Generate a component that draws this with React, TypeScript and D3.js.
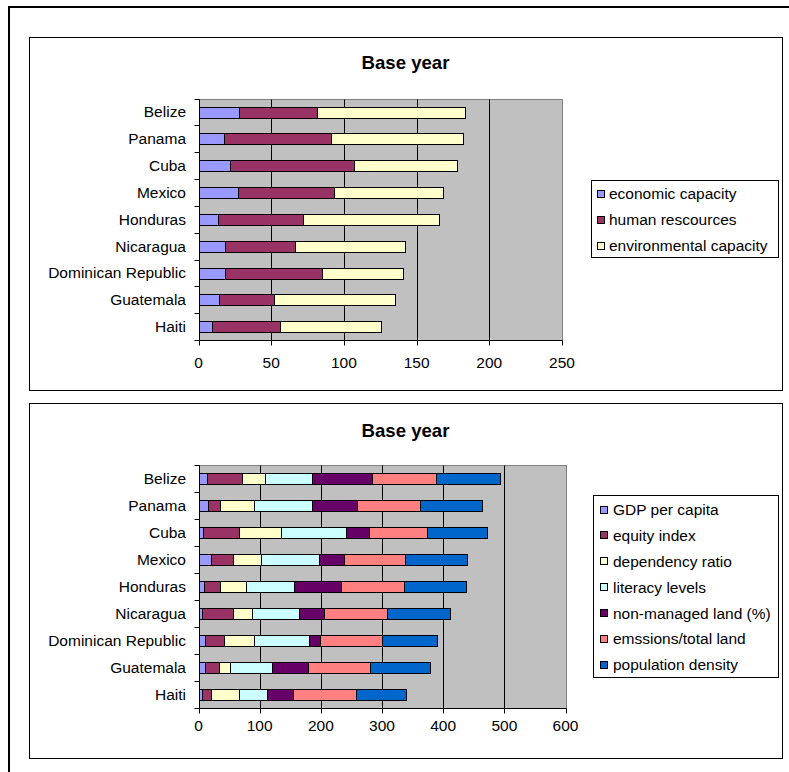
import React from 'react';
import * as d3 from 'd3';

const countries = ['Belize', 'Panama', 'Cuba', 'Mexico', 'Honduras', 'Nicaragua', 'Dominican Republic', 'Guatemala', 'Haiti'];

// Top chart
const topSeries = ['economic capacity', 'human rescources', 'environmental capacity'];
const economicCapacity = [27.9, 17.5, 21.7, 27.2, 13.2, 18.5, 18.5, 14.3, 9.1];
const humanResources = [53.7, 73.5, 85.3, 66.1, 58.9, 47.7, 66.5, 37.4, 46.8];
const environmentalCapacity = [102.0, 91.0, 70.9, 75.2, 93.0, 76.1, 55.5, 83.5, 69.9];
const topTicks = [0, 50, 100, 150, 200, 250];
const topColors = ['#9999FF', '#993366', '#FFFFCC'];

// Bottom chart
const bottomSeries = ['GDP per capita', 'equity index', 'dependency ratio', 'literacy levels', 'non-managed land (%)', 'emssions/total land', 'population density'];
const gdpPerCapita = [13.6, 16.3, 7.1, 20.1, 8.2, 6.5, 10.9, 10.3, 6.0];
const equityIndex = [58.3, 19.6, 59.3, 36.5, 26.6, 50.1, 31.6, 22.9, 14.1];
const dependencyRatio = [37.5, 55.0, 69.1, 46.3, 42.5, 30.5, 49.0, 19.1, 46.3];
const literacyLevels = [76.8, 95.3, 105.1, 94.7, 78.9, 76.8, 88.7, 67.5, 46.3];
const nonManagedLand = [96.9, 72.4, 37.6, 40.8, 76.8, 40.8, 18.5, 58.8, 41.4];
const emissionsLand = [105.0, 103.4, 95.8, 99.1, 102.9, 102.9, 100.7, 102.3, 102.8];
const populationDensity = [104.0, 101.3, 96.9, 101.3, 100.7, 103.4, 90.9, 97.4, 81.7];
const bottomTicks = [0, 100, 200, 300, 400, 500, 600];
const bottomColors = ['#9999FF', '#993366', '#FFFFCC', '#CCFFFF', '#660066', '#FF8080', '#0066CC'];

const FONT = '"Liberation Sans", Arial, sans-serif';

type Box = { x: number; y: number; w: number; h: number };
type Plot = { x0: number; x1: number; y0: number; y1: number };

function StackedChart(props: {
  box: Box; plot: Plot; titleY: number; tickLabelDy: number;
  series: string[]; values: number[][]; colors: string[]; ticks: number[];
  legend: { x: number; y: number; w: number; h: number; first: number; step: number; markX: number; textX: number };
}) {
  const { box, plot, titleY, tickLabelDy, series, values, colors, ticks, legend } = props;
  const x = d3.scaleLinear().domain([ticks[0], ticks[ticks.length - 1]]).range([plot.x0, plot.x1]);
  const y = d3.scaleBand<string>().domain(countries).range([plot.y0, plot.y1]).paddingInner(0.6).paddingOuter(0.3);
  const rows = countries.map((c, i) => {
    const r: any = { country: c };
    series.forEach((s, j) => { r[s] = values[j][i]; });
    return r;
  });
  const stacked = d3.stack<any>().keys(series)(rows);
  const step = y.step();
  const bounds = d3.range(countries.length + 1).map(i => plot.y0 + i * step);
  const r = (v: number) => Math.round(v) + 0.5;
  return (
    <g>
      <rect x={box.x + 0.5} y={box.y + 0.5} width={box.w} height={box.h} fill="#fff" stroke="#000" strokeWidth={1} />
      <text x={box.x + box.w / 2} y={titleY} textAnchor="middle" dy="0.35em" fontFamily={FONT} fontWeight="bold" fontSize={18.6}>Base year</text>
      <rect x={r(plot.x0)} y={r(plot.y0)} width={Math.round(plot.x1) - Math.round(plot.x0)} height={Math.round(plot.y1) - Math.round(plot.y0)} fill="#C0C0C0" stroke="#808080" strokeWidth={1} />
      {ticks.slice(1, -1).map(t => (
        <line key={t} x1={r(x(t))} x2={r(x(t))} y1={r(plot.y0)} y2={r(plot.y1)} stroke="#000" strokeWidth={1} />
      ))}
      {stacked.map((layer, j) => (
        <g key={series[j]}>
          {layer.map((d, i) => (
            <rect key={i} x={r(x(d[0]))} y={r(y(countries[i])!)} width={Math.round(x(d[1])) - Math.round(x(d[0]))}
              height={Math.round(y.bandwidth())} fill={colors[j]} stroke="#000" strokeWidth={1} />
          ))}
        </g>
      ))}
      {/* axes */}
      <line x1={r(plot.x0)} x2={r(plot.x0)} y1={r(plot.y0)} y2={r(plot.y1)} stroke="#000" />
      <line x1={r(plot.x0)} x2={r(plot.x1)} y1={r(plot.y1)} y2={r(plot.y1)} stroke="#000" />
      {bounds.map((b, i) => (
        <line key={i} x1={r(plot.x0) - 5} x2={r(plot.x0)} y1={r(b)} y2={r(b)} stroke="#000" />
      ))}
      {ticks.map(t => (
        <g key={t}>
          <line x1={r(x(t))} x2={r(x(t))} y1={r(plot.y1)} y2={r(plot.y1) + 5} stroke="#000" />
          <text x={x(t)} y={plot.y1 + tickLabelDy} textAnchor="middle" dy="0.35em" fontFamily={FONT} fontSize={15.5}>{t}</text>
        </g>
      ))}
      {countries.map(c => (
        <text key={c} x={plot.x0 - 12.5} y={y(c)! + y.bandwidth() / 2} textAnchor="end" dy="0.35em" fontFamily={FONT} fontSize={15.5}>{c}</text>
      ))}
      {/* legend */}
      <rect x={legend.x + 0.5} y={legend.y + 0.5} width={legend.w} height={legend.h} fill="#fff" stroke="#000" />
      {series.map((s, j) => {
        const cy = legend.first + j * legend.step;
        return (
          <g key={s}>
            <rect x={legend.markX + 0.5} y={Math.round(cy - 4) + 0.5} width={7} height={7} fill={colors[j]} stroke="#000" />
            <text x={legend.textX} y={cy} dy="0.35em" fontFamily={FONT} fontSize={15.5}>{s}</text>
          </g>
        );
      })}
    </g>
  );
}

export default function App() {
  return (
    <svg width={789} height={772} style={{ position: 'absolute', left: 0, top: 0, background: '#fff' }}>
      <rect x={9} y={7} width={800} height={800} fill="#fff" stroke="#000" strokeWidth={2} />
      <StackedChart
        box={{ x: 29, y: 37, w: 753, h: 353 }}
        plot={{ x0: 198.5, x1: 562, y0: 98.5, y1: 340 }}
        titleY={62}
        tickLabelDy={23}
        series={topSeries}
        values={[economicCapacity, humanResources, environmentalCapacity]}
        colors={topColors}
        ticks={topTicks}
        legend={{ x: 591, y: 180, w: 187, h: 77, first: 194, step: 25.8, markX: 597, textX: 609 }}
      />
      <StackedChart
        box={{ x: 29, y: 403, w: 753, h: 355 }}
        plot={{ x0: 198.5, x1: 565.5, y0: 465, y1: 708 }}
        titleY={430}
        tickLabelDy={18}
        series={bottomSeries}
        values={[gdpPerCapita, equityIndex, dependencyRatio, literacyLevels, nonManagedLand, emissionsLand, populationDensity]}
        colors={bottomColors}
        ticks={bottomTicks}
        legend={{ x: 593, y: 495, w: 185, h: 182, first: 509.5, step: 25.9, markX: 600, textX: 613 }}
      />
    </svg>
  );
}
